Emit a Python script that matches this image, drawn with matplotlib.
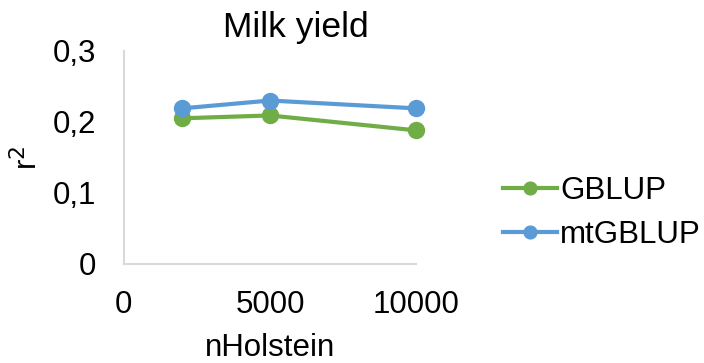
import matplotlib.pyplot as plt
from matplotlib.ticker import FuncFormatter

plt.rcParams['font.family'] = ['Liberation Sans', 'DejaVu Sans']

# data
n_holstein = [2000, 5000, 10000]
gblup = [0.205, 0.209, 0.188]
mtgblup = [0.219, 0.230, 0.219]

green = '#70AD47'
blue = '#5B9BD5'

fig = plt.figure(figsize=(7.04, 3.63), dpi=100)
ax = fig.add_axes([0.176, 0.273, 0.415, 0.587])

ax.plot(n_holstein, gblup, color=green, lw=3, marker='o', ms=11.5, label='GBLUP', clip_on=False)
ax.plot(n_holstein, mtgblup, color=blue, lw=3, marker='o', ms=11.5, label='mtGBLUP', clip_on=False)

ax.set_xlim(0, 10000)
ax.set_ylim(0, 0.3)
ax.set_xticks([0, 5000, 10000])
ax.set_yticks([0, 0.1, 0.2, 0.3])
ax.yaxis.set_major_formatter(FuncFormatter(lambda v, p: ('%g' % round(v, 1)).replace('.', ',')))
ax.tick_params(length=0, labelsize=22.5)
ax.tick_params(axis='x', pad=19)
ax.tick_params(axis='y', pad=20)

for s in ['top', 'right']:
    ax.spines[s].set_visible(False)
for s in ['left', 'bottom']:
    ax.spines[s].set_color('#D9D9D9')
    ax.spines[s].set_linewidth(1.5)

# title sits centred over the whole chart area, not the plot
fig.text(0.42, 0.97, 'Milk yield', fontsize=25.5, ha='center', va='top')
ax.set_xlabel('nHolstein', fontsize=22.5, labelpad=9)
ax.set_ylabel('r$^2$', fontsize=22.5, labelpad=6)

ax.legend(loc='center left', bbox_to_anchor=(1.2, 0.24), frameon=False,
          fontsize=22.5, handlelength=1.75, handletextpad=0.1, labelspacing=0.45,
          markerscale=0.8)

fig.savefig('out.png', dpi=100)
